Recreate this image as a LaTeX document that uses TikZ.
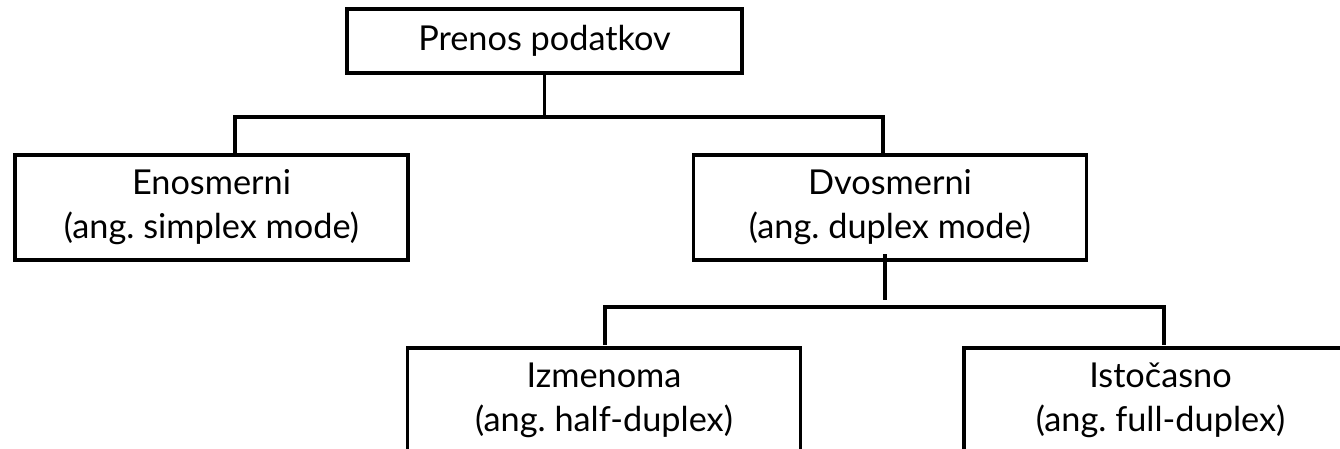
\documentclass[tikz,border=0pt]{standalone}
\usepackage{fontspec}
\setmainfont{Lato}
\begin{document}
\begin{tikzpicture}[x=1pt,y=-1pt,
  box/.style={draw, line width=3.8pt, minimum width=393pt, minimum height=105pt,
    align=center, inner sep=0pt, font=\fontsize{34.3}{44}\selectfont\frenchspacing},
  conn/.style={line width=3.2pt}]
\useasboundingbox (0,0) rectangle (1340,449);
\clip (0,0) rectangle (1340,449);
\node[box, minimum width=395pt, minimum height=64pt] (top) at (544.5,41) {Prenos podatkov};
\node[box] (left) at (211.5,207.5) {Enosmerni\\(ang. simplex mode)};
\node[box] (right) at (890,207.5) {Dvosmerni\\(ang. duplex mode)};
\node[box] (bl) at (604,400.5) {Izmenoma\\(ang. half-duplex)};
\node[box] (br) at (1160.5,400.5) {Isto\v{c}asno\\(ang. full-duplex)};
% first level
\coordinate (h1) at (0,117);
\draw[conn] (top.south) -- (top.south |- h1);
\draw[conn] (left.north -| 235,0) -- (235,117) -- (883,117) -- (right.north -| 883,0);
% second level
\coordinate (a) at (885,254);
\coordinate (b) at (885,300);
\draw[conn] (a) -- (b);
\draw[conn] (605,345) -- (605,307) -- (1164,307) -- (1164,345);
\end{tikzpicture}
\end{document}
